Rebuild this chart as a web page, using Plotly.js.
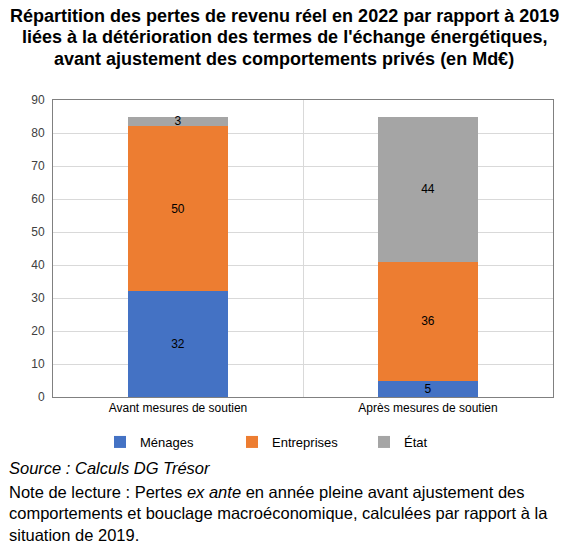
<!DOCTYPE html>
<html>
<head>
<meta charset="utf-8">
<script src="https://cdn.plot.ly/plotly-3.0.1.min.js"></script>
<style>html,body{margin:0;padding:0;background:#fff;}#chart{width:571px;height:547px;}</style>
</head>
<body>
<div id="chart"></div>
<script>
var categories = ["Avant mesures de soutien", "Après mesures de soutien"];
var menages = [32, 5];
var entreprises = [50, 36];
var etat = [3, 44];
var seriesNames = ["Ménages", "Entreprises", "État"];
var colors = ["#4472c4", "#ed7d31", "#a5a5a5"];
var yTicks = [0, 10, 20, 30, 40, 50, 60, 70, 80, 90];
var titleLines = [
  "Répartition des pertes de revenu réel en 2022 par rapport à 2019",
  "liées à la détérioration des termes de l'échange énergétiques,",
  "avant ajustement des comportements privés (en Md€)"
];
var sourceText = "<i>Source : Calculs DG Trésor</i>";
var noteText = "Note de lecture : Pertes <i>ex ante</i> en année pleine avant ajustement des<br>comportements et bouclage macroéconomique, calculées par rapport à la<br>situation de 2019.";

var font = "Liberation Sans, Arial, sans-serif";
var values = [menages, entreprises, etat];
var traces = values.map(function (v, i) {
  return {
    type: "bar",
    name: seriesNames[i],
    x: categories,
    y: v,
    text: v.map(String),
    textposition: "inside",
    insidetextanchor: "middle",
    textangle: 0,
    constraintext: "none",
    textfont: {family: font, size: 12, color: "#000"},
    marker: {color: colors[i], line: {width: 0}},
    hoverinfo: "none"
  };
});

var titleY = [1.2845, 1.2121, 1.1397];
var annotations = titleLines.map(function (t, i) {
  return {
    xref: "paper", yref: "paper", x: 0.462, y: titleY[i],
    xanchor: "center", yanchor: "middle", showarrow: false,
    text: "<b>" + t + "</b>",
    font: {family: font, size: 18, color: "#000"}
  };
});
annotations.push(
  {xref: "paper", yref: "paper", x: -0.092, y: -0.239, xanchor: "left", yanchor: "middle",
   showarrow: false, align: "left", text: sourceText,
   font: {family: font, size: 16.5, color: "#000"}},
  {xref: "paper", yref: "paper", x: -0.092, y: -0.283, xanchor: "left", yanchor: "top",
   showarrow: false, align: "left", text: noteText,
   font: {family: font, size: 16.5, color: "#000"}}
);

var layout = {
  width: 571, height: 547,
  margin: {l: 53, r: 18, t: 100, b: 150},
  paper_bgcolor: "#fff", plot_bgcolor: "#fff",
  barmode: "stack",
  bargap: 0.6,
  showlegend: true,
  font: {family: font, size: 12, color: "#000"},
  xaxis: {
    type: "category",
    range: [-0.5, 1.5],
    tickson: "boundaries",
    showgrid: true, gridcolor: "#d9d9d9",
    ticks: "", ticklen: 0,
    showline: true, linecolor: "#808080", linewidth: 1, mirror: true,
    tickfont: {family: font, size: 12, color: "#000"}
  },
  yaxis: {
    range: [0, 90],
    tickvals: yTicks,
    ticktext: yTicks.map(String),
    showgrid: true, gridcolor: "#d9d9d9",
    zeroline: false,
    showline: true, linecolor: "#808080", linewidth: 1, mirror: true,
    ticks: "", ticklen: 0,
    ticklabelstandoff: 5,
    tickfont: {family: font, size: 12, color: "#404040"}
  },
  legend: {
    orientation: "h",
    x: 0.094, xanchor: "left",
    y: -0.101, yanchor: "top",
    entrywidth: 87, entrywidthmode: "pixels",
    font: {family: font, size: 13, color: "#000"},
    itemwidth: 30,
    traceorder: "normal"
  },
  annotations: annotations
};

Plotly.newPlot("chart", traces, layout, {staticPlot: true, displayModeBar: false});
</script>
</body>
</html>
